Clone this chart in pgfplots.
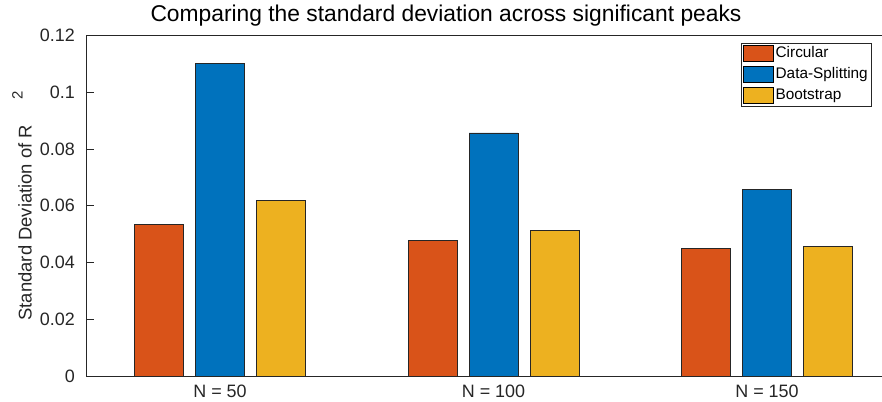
\documentclass[border=0pt]{standalone}
\usepackage{fontspec}
\setmainfont{Liberation Sans}
\usepackage{pgfplots}
\pgfplotsset{compat=1.18}
\definecolor{mOrange}{rgb}{0.850,0.325,0.098}
\definecolor{mBlue}{rgb}{0,0.447,0.741}
\definecolor{mYellow}{rgb}{0.929,0.694,0.125}
\definecolor{axgray}{rgb}{0.15,0.15,0.15}
\begin{document}
\begin{tikzpicture}
\useasboundingbox (0,0) rectangle (882bp,402bp);
\begin{axis}[
  at={(86bp,26bp)}, anchor=south west,
  scale only axis, width=815bp, height=340.5bp,
  xmin=0.51, xmax=3.49, ymin=0, ymax=0.12,
  ybar, bar width=0.178,
  xtick={1,2,3}, xticklabels={N = 50, N = 100, N = 150},
  ytick={0,0.02,0.04,0.06,0.08,0.1,0.12},
  yticklabels={0,0.02,0.04,0.06,0.08,0.1,0.12},
  tick align=inside, ytick pos=left, xtick pos=bottom,
  major tick length=8bp,
  axis line style={axgray, line width=0.6bp},
  ytick style={axgray, line width=0.6bp},
  xtick style={draw=none},
  ticklabel style={font=\fontsize{18}{20}\selectfont, text=axgray},
  yticklabel style={anchor=east, inner sep=0pt, xshift=-11bp},
  xticklabel style={anchor=north, inner sep=0pt, yshift=-9bp},
  legend image code/.code={\draw[#1, draw=black, line width=0.5bp] (0bp,-8bp) rectangle (30bp,8bp);},
  legend style={at={(0.9632,0.9789)}, anchor=north east, draw=axgray, line width=0.5bp,
    font=\fontsize{15.4}{17}\selectfont, inner xsep=2bp, inner ysep=1bp, row sep=2bp,
    nodes={inner ysep=2bp, inner xsep=1bp, text height=11.5bp, text depth=3.5bp},
    /tikz/every odd column/.style={column sep=1bp}},
  legend cell align=left,
]
\addplot[fill=mOrange, draw=black!85, line width=0.6bp, bar shift=-0.223] coordinates {(1,0.0533) (2,0.0479) (3,0.0451)};
\addplot[fill=mBlue, draw=black!85, line width=0.6bp, bar shift=0] coordinates {(1,0.1101) (2,0.0857) (3,0.0659)};
\addplot[fill=mYellow, draw=black!85, line width=0.6bp, bar shift=0.223] coordinates {(1,0.0618) (2,0.0513) (3,0.0457)};
\legend{Circular, Data-Splitting, Bootstrap}
\end{axis}
\node[font=\fontsize{22.9}{25}\selectfont, anchor=base] at (446bp,380bp) {Comparing the standard deviation across significant peaks};
\node[rotate=90, anchor=base, font=\fontsize{18.5}{20}\selectfont, text=axgray, inner sep=0pt] at (31.7bp,196bp)
  {Standard Deviation of R\hspace{25bp}\raisebox{9bp}{\fontsize{15}{15}\selectfont 2}};
\end{tikzpicture}
\end{document}
